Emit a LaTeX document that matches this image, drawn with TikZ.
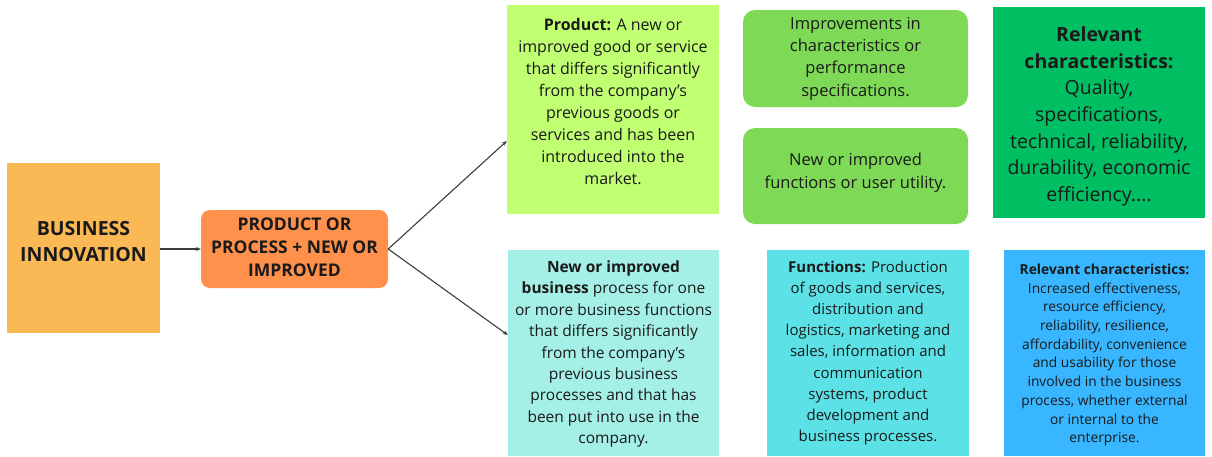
\documentclass[tikz,border=0pt]{standalone}
\usepackage{fontspec}
\setmainfont{Open Sans}
\usetikzlibrary{arrows.meta}
\definecolor{biorange}{HTML}{FBB955}
\definecolor{pporange}{HTML}{FF914D}
\definecolor{prodlime}{HTML}{C1FF72}
\definecolor{midgreen}{HTML}{7ED957}
\definecolor{deepgreen}{HTML}{00BF63}
\definecolor{paleteal}{HTML}{A4F0E7}
\definecolor{aqua}{HTML}{5CE1E6}
\definecolor{skyblue}{HTML}{38B6FF}
\definecolor{ink}{HTML}{1A1A1A}
\newcommand{\fs}[2]{\fontsize{#1}{#2}\selectfont}
\tikzset{
  box/.style={draw=none, inner sep=0pt},
  txt/.style={inner sep=0pt, align=center, text=ink},
  sz/.style 2 args={font={\fs{#1}{#2}}},
  arr/.style={draw=ink!85, line width=1.1pt, -{Stealth[length=5pt,width=4pt]}},
}
\begin{document}
\begin{tikzpicture}[x=1pt,y=-1pt]
\useasboundingbox (0,0) rectangle (1212,456);

% coloured boxes
\node[box, fill=biorange, minimum width=153pt, minimum height=170pt] (bi) at (83.5,248) {};
\node[box, fill=pporange, rounded corners=9pt, minimum width=187pt, minimum height=78pt] (pp) at (294.5,249) {};
\node[box, fill=prodlime, minimum width=212pt, minimum height=209pt] (prod) at (613,109.5) {};
\node[box, fill=midgreen, rounded corners=12pt, minimum width=225pt, minimum height=97pt] (imp) at (855.5,58.5) {};
\node[box, fill=midgreen, rounded corners=12pt, minimum width=225pt, minimum height=96pt] (fun) at (855.5,176) {};
\node[box, fill=deepgreen, minimum width=212pt, minimum height=211pt] (relg) at (1099,112.5) {};
\node[box, fill=paleteal, minimum width=211pt, minimum height=206pt] (bp) at (613.5,353) {};
\node[box, fill=aqua, minimum width=202pt, minimum height=206pt] (funcs) at (868,353) {};
\node[box, fill=skyblue, minimum width=201pt, minimum height=206pt] (relb) at (1104.5,353) {};

% texts
\node[txt, sz={19.5}{26}] (bit) at (bi.center |- 0,242)
  {\textbf{BUSINESS}\\ \textbf{INNOVATION}};
\node[txt, sz={17.5}{23}] (ppt) at (pp.center |- 0,247.5)
  {\textbf{PRODUCT OR}\\ \textbf{PROCESS + NEW OR}\\ \textbf{IMPROVED}};
\node[txt, sz={16}{22}] (prodt) at (prod.center |- 0,101.5)
  {\textbf{Product:} A new or\\ improved good or service\\ that differs significantly\\ from the company's\\ previous goods or\\ services and has been\\ introduced into the\\ market.};
\node[txt, sz={16.5}{22.3}] (impt) at (imp.center |- 0,58.5)
  {Improvements in\\ characteristics or\\ performance\\ specifications.};
\node[txt, sz={16.5}{23}] (funt) at (fun.center |- 0,173)
  {New or improved\\ functions or user utility.};
\node[txt, sz={19.5}{26.6}] (relgt) at (relg.center |- 0,116.5)
  {\textbf{Relevant}\\ \textbf{characteristics:}\\ Quality,\\ specifications,\\ technical, reliability,\\ durability, economic\\ efficiency....};
\node[txt, sz={15.5}{21.4}] (bpt) at (bp.center |- 0,354)
  {\textbf{New or improved}\\ \textbf{business} process for one\\ or more business functions\\ that differs significantly\\ from the company's\\ previous business\\ processes and that has\\ been put into use in the\\ company.};
\node[txt, sz={15}{21.1}] (funcst) at (funcs.center |- 0,353)
  {\textbf{Functions:} Production\\ of goods and services,\\ distribution and\\ logistics, marketing and\\ sales, information and\\ communication\\ systems, product\\ development and\\ business processes.};
\node[txt, sz={13.8}{18.7}] (relbt) at (relb.center |- 0,355)
  {\textbf{Relevant characteristics:}\\ Increased effectiveness,\\ resource efficiency,\\ reliability, resilience,\\ affordability, convenience\\ and usability for those\\ involved in the business\\ process, whether external\\ or internal to the\\ enterprise.};

% connectors
\draw[arr] (bi.east |- pp.west) -- (pp.west);
\draw[arr] (pp.east) -- (prod.west |- 0,141);
\draw[arr] (pp.east) -- (bp.west |- 0,335);
\end{tikzpicture}
\end{document}
